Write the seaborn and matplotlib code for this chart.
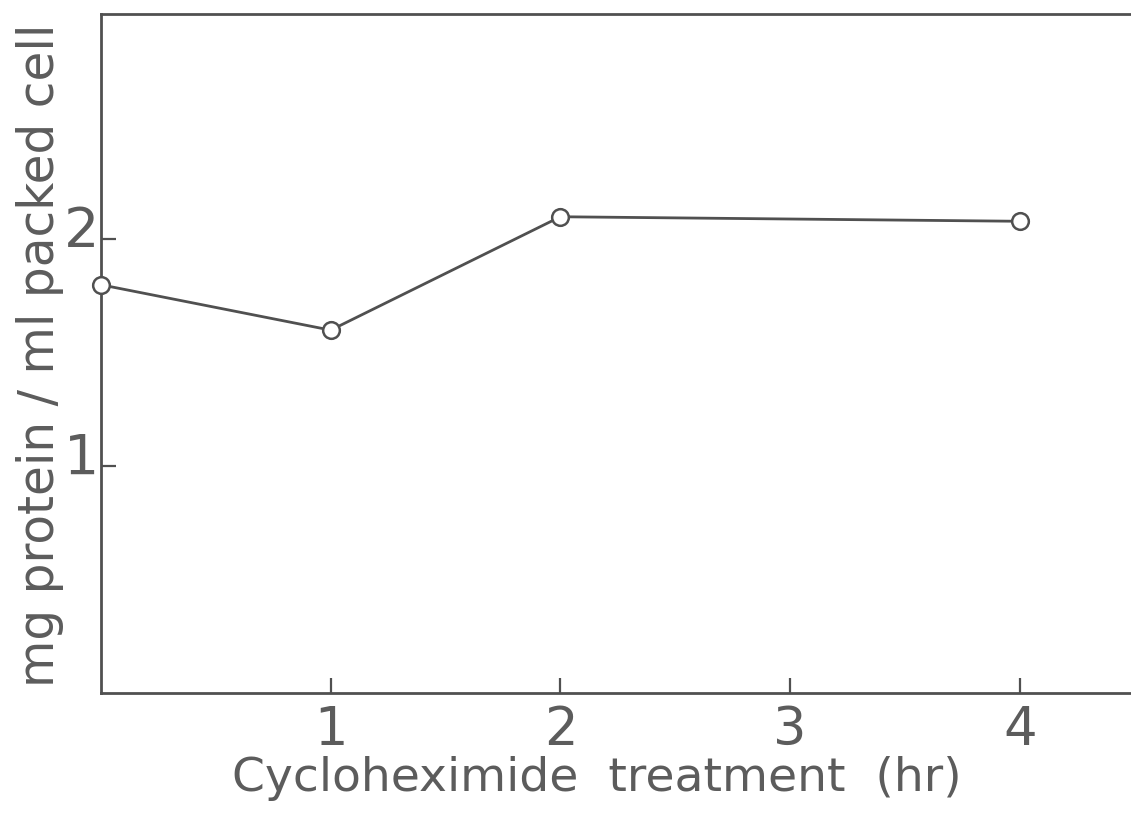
import matplotlib
matplotlib.use("Agg")
import matplotlib.pyplot as plt
import matplotlib.transforms as mtransforms
import seaborn as sns
import pandas as pd

# Protein content during cycloheximide treatment
hours = [0, 1, 2, 4]
protein = [1.80, 1.60, 2.10, 2.08]
xtick_values = [1, 2, 3, 4]
xtick_labels = ["1", "2", "3", "4"]
ytick_values = [1, 2]
ytick_labels = ["1", "2"]

df = pd.DataFrame({"hr": hours, "protein": protein})

sns.set_theme(style="white")
plt.rcParams["font.family"] = ["DejaVu Sans"]

ink = "#505050"
text_ink = "#5c5c5c"

W, H = 1131, 813
fig = plt.figure(figsize=(W / 100, H / 100), dpi=100)
ax = fig.add_axes([101 / W, 1 - 693 / H, 1030 / W, (693 - 14) / H])

sns.lineplot(data=df, x="hr", y="protein", ax=ax, color=ink, linewidth=2.0,
             marker="o", markersize=12, markerfacecolor="white",
             markeredgecolor=ink, markeredgewidth=1.8, clip_on=False, zorder=5)

ax.set_xlim(0, 1030 / 229.7)
ax.set_ylim(0, 2.994)

for side in ["left", "top", "bottom"]:
    ax.spines[side].set_color(ink)
    ax.spines[side].set_linewidth(2.0)
ax.spines["right"].set_visible(False)

ax.set_xticks(xtick_values)
ax.set_xticklabels(xtick_labels)
ax.set_yticks(ytick_values)
ax.set_yticklabels(ytick_labels)
ax.tick_params(axis="both", direction="in", length=11, width=1.6, color=ink,
               labelcolor=text_ink, bottom=True, left=True)
ax.tick_params(axis="x", labelsize=38, pad=8)
ax.tick_params(axis="y", labelsize=40, pad=1)

# lift the y tick labels slightly above their ticks
lift = mtransforms.ScaledTranslation(0, 10 / 72, fig.dpi_scale_trans)
for lab in ax.get_yticklabels():
    lab.set_transform(lab.get_transform() + lift)

ax.set_xlabel("Cycloheximide  treatment  (hr)", fontsize=34, color=text_ink)
ax.xaxis.set_label_coords(0.481, -0.0925)
ax.set_ylabel("mg protein / ml packed cell", fontsize=35, color=text_ink)
ax.yaxis.set_label_coords(-0.0364, 0.497)
ax.grid(False)

fig.savefig("out.png", dpi=100, facecolor="white")
